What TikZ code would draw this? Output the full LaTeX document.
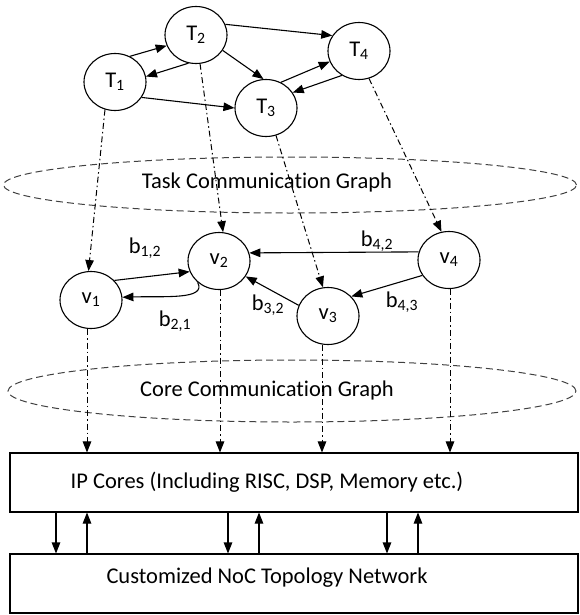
\documentclass[tikz,border=0pt]{standalone}
\usepackage{fontspec}
\setmainfont[Ligatures=NoCommon]{Carlito}
\usetikzlibrary{arrows.meta,shapes.geometric}

\begin{document}
\begin{tikzpicture}[x=1pt,y=-1pt,
  font=\fontsize{22.5}{27}\selectfont,
  vertex/.style={draw, ellipse, line width=1.1pt, minimum width=62pt, minimum height=57pt, inner sep=0pt},
  edge/.style={line width=1.1pt, -{Triangle[length=11pt,width=8.5pt]}},
  maparrow/.style={line width=1pt, dash pattern=on 6pt off 3pt on 1.5pt off 3pt, -{Triangle[length=11pt,width=8.5pt]}},
  graphring/.style={draw=black!75, dash pattern=on 7pt off 4pt, line width=1pt, ellipse, inner sep=0pt},
  layerbox/.style={draw, line width=1.1pt, rectangle, inner sep=0pt}]
  \useasboundingbox (0,0) rectangle (579,615);

  % task graph
  \node[vertex] (t1) at (115,82)  {T\textsubscript{1}};
  \node[vertex] (t2) at (196,35)  {T\textsubscript{2}};
  \node[vertex] (t3) at (266,108) {T\textsubscript{3}};
  \node[vertex] (t4) at (359,51)  {T\textsubscript{4}};

  \draw[edge] (t1.60)  -- (t2.200);
  \draw[edge] (t2.255) -- (t1.10);
  \draw[edge] (t2.330) -- (t3.95);
  \draw[edge] (t2.20)  -- (t4.150);
  \draw[edge] (t1.330) -- (t3.180);
  \draw[edge] (t3.60)  -- (t4.200);
  \draw[edge] (t4.235) -- (t3.30);

  \node[graphring, minimum width=573pt, minimum height=56pt] (taskring) at (290,185) {};
  \node (tasklabel) at (267,183) {Task Communication Graph};

  % core graph
  \node[vertex] (v1) at (91,300)  {v\textsubscript{1}};
  \node[vertex] (v2) at (219,261) {v\textsubscript{2}};
  \node[vertex] (v3) at (328,316) {v\textsubscript{3}};
  \node[vertex] (v4) at (449,260) {v\textsubscript{4}};

  \draw[edge] (v1.40)  -- (v2.200);
  \draw[edge] (v2.225) .. controls (207,300) and (165,296) .. (v1.5);
  \draw[edge] (v4.165) -- (v2.15);
  \draw[edge] (v4.210) -- (v3.40);
  \draw[edge] (v3.160) -- (v2.330);
  \node (b12) at (145,248) {b\textsubscript{1,2}};
  \node (b21) at (175,321) {b\textsubscript{2,1}};
  \node (b42) at (377,241) {b\textsubscript{4,2}};
  \node (b43) at (402,302) {b\textsubscript{4,3}};
  \node (b32) at (268,305) {b\textsubscript{3,2}};

  \draw[maparrow] (t1.250) -- (v1.95);
  \draw[maparrow] (t2.278) -- (v2.82);
  \draw[maparrow] (t3.290) -- (v3.100);
  \draw[maparrow] (t4.290) -- (v4.105);

  \node[graphring, minimum width=568pt, minimum height=62pt] (corering) at (292,391) {};
  \node (corelabel) at (267,390) {Core Communication Graph};

  % hardware layers
  \node[layerbox, minimum width=568pt, minimum height=59pt] (ipcores) at (294,482.5) {};
  \node (iplabel) at (267,482) {IP Cores (Including RISC, DSP, Memory etc.)};
  \node[layerbox, minimum width=568pt, minimum height=59pt] (noc) at (294,583.5) {};
  \node (noclabel) at (267,578) {Customized NoC Topology Network};

  \foreach \v/\x in {v1/87, v2/220, v3/322, v4/450}
    \draw[maparrow] (\x,0 |- \v.south) -- (\x,0 |- ipcores.north);

  \foreach \d/\u in {56/87, 228/259, 387/418} {
    \draw[edge] (\d,0 |- ipcores.south) -- (\d,0 |- noc.north);
    \draw[edge] (\u,0 |- noc.north) -- (\u,0 |- ipcores.south);
  }
\end{tikzpicture}
\end{document}
